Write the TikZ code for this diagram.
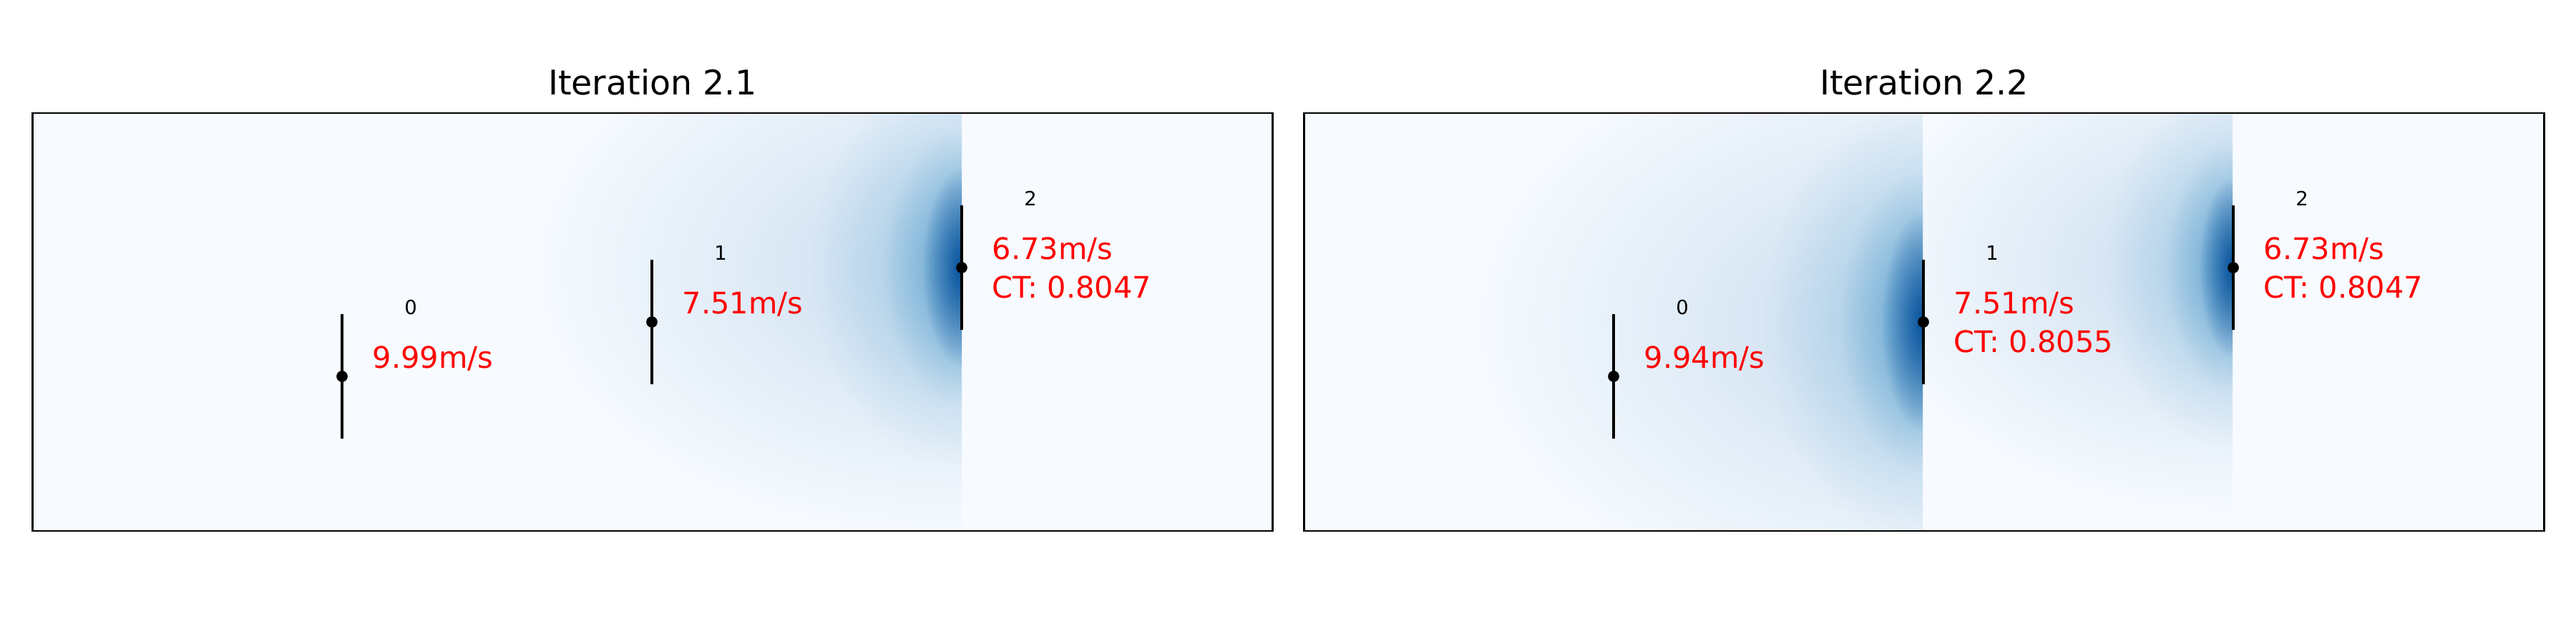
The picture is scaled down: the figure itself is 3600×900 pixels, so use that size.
\documentclass[tikz,border=0pt]{standalone}
\usepackage{fontspec}
\setmainfont{DejaVu Sans}
\usetikzlibrary{fadings}

\definecolor{fieldbg}{HTML}{F7FBFF}
\definecolor{wakefar}{HTML}{C8DCEF}
\definecolor{wakelight}{HTML}{6BAED6}
\definecolor{wakemid}{HTML}{4292C6}
\definecolor{wakecore}{HTML}{08519C}
\definecolor{speedred}{HTML}{FF0000}

\tikzfading[name=wakefade, inner color=transparent!0, outer color=transparent!100]

% induction field in front of one rotor: centre x, centre y, x scale, y scale
\newcommand{\inflowfield}[4]{%
  \fill[wakefar, path fading=wakefade] (#1,#2) ellipse [x radius=600*#3, y radius=380*#4];
  \fill[wakelight, fill opacity=.5, path fading=wakefade] (#1,#2) ellipse [x radius=210*#3, y radius=280*#4];
  \fill[wakemid, fill opacity=.65, path fading=wakefade] (#1,#2) ellipse [x radius=110*#3, y radius=190*#4];
  \fill[wakecore, path fading=wakefade] (#1,#2) ellipse [x radius=55*#3, y radius=140*#4];
}

\begin{document}
\begin{tikzpicture}[
  x=0.01cm, y=0.01cm,
  frame/.style={draw=black, line width=0.77pt},
  rotor/.style={black, line width=1.25pt},
  hub/.style={circle, fill=black, inner sep=0pt, minimum size=0.157cm},
  title/.style={font=\fontsize{13.5}{16}\selectfont, anchor=base, inner sep=0pt},
  tid/.style={font=\fontsize{7.8}{9}\selectfont, anchor=base, inner sep=0pt},
  speed/.style={text=speedred, font=\fontsize{11.8}{14}\selectfont, anchor=base west, inner sep=0pt}
]
  \useasboundingbox (0,0) rectangle (3600,900);

  % Panel offset
  \def\off{1777}

  % Backgrounds
  \fill[fieldbg] (45.5,158) rectangle (1778.5,742);
  \fill[fieldbg] (45.5+\off,158) rectangle (1778.5+\off,742);

  % Fields (each one ends at its rotor plane)
  \begin{scope}
    \clip (45.5,158) rectangle (1344,742);
    \inflowfield{1344}{526}{1}{1}
  \end{scope}
  \begin{scope}
    \clip (45.5+\off,158) rectangle (3120,742);
    \inflowfield{3120}{526}{.85}{.9}
  \end{scope}
  \begin{scope}
    \clip (45.5+\off,158) rectangle (2687,742);
    \inflowfield{2687}{450}{1.05}{1.1}
  \end{scope}

  % Frames
  \draw[frame] (45.5,158) rectangle (1778.5,742);
  \draw[frame] (45.5+\off,158) rectangle (1778.5+\off,742);

  % Titles
  \node[title] (ltitle) at (912,767) {Iteration 2.1};
  \node[title] (rtitle) at (912+\off,767) {Iteration 2.2};

  % Turbines: l = left panel, r = right panel
  \foreach \i/\px/\py in {0/478/374, 1/911/450, 2/1344/526} {
    \node[hub] (l\i) at (\px,\py) {};
    \node[hub] (r\i) at (\px+\off,\py) {};
    \draw[rotor] ([yshift=0.865cm]l\i.center) -- ([yshift=-0.865cm]l\i.center);
    \draw[rotor] ([yshift=0.865cm]r\i.center) -- ([yshift=-0.865cm]r\i.center);
    \node[tid] (l\i id) at ([xshift=0.96cm, yshift=0.865cm]l\i.center) {\i};
    \node[tid] (r\i id) at ([xshift=0.96cm, yshift=0.865cm]r\i.center) {\i};
  }

  % Speeds and thrust coefficients
  \node[speed] (l0v) at ([xshift=0.42cm, yshift=0.115cm]l0.center) {9.99m/s};
  \node[speed] (l1v) at ([xshift=0.42cm, yshift=0.115cm]l1.center) {7.51m/s};
  \node[speed] (l2v) at ([xshift=0.42cm, yshift=0.115cm]l2.center) {6.73m/s};
  \node[speed] (l2ct) at ([xshift=0.42cm, yshift=-0.425cm]l2.center) {CT: 0.8047};

  \node[speed] (r0v) at ([xshift=0.42cm, yshift=0.115cm]r0.center) {9.94m/s};
  \node[speed] (r1v) at ([xshift=0.42cm, yshift=0.115cm]r1.center) {7.51m/s};
  \node[speed] (r1ct) at ([xshift=0.42cm, yshift=-0.425cm]r1.center) {CT: 0.8055};
  \node[speed] (r2v) at ([xshift=0.42cm, yshift=0.115cm]r2.center) {6.73m/s};
  \node[speed] (r2ct) at ([xshift=0.42cm, yshift=-0.425cm]r2.center) {CT: 0.8047};
\end{tikzpicture}
\end{document}
